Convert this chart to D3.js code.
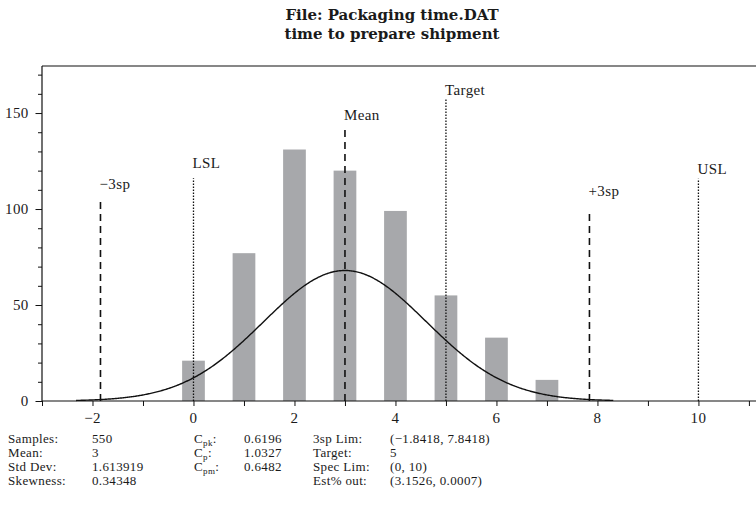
<!DOCTYPE html>
<html>
<head>
<meta charset="utf-8">
<script src="https://cdn.jsdelivr.net/npm/d3@7"></script>
<style>
  html, body { margin: 0; padding: 0; background: #fff; }
  svg { display: block; }
  text { font-family: "Liberation Serif", "Times New Roman", serif; fill: #1a1a1a; }
  .title { font-family: "DejaVu Serif", "Liberation Serif", serif; font-weight: bold; }
</style>
</head>
<body>
<svg id="chart" width="756" height="508"></svg>
<script>
// Histogram of packaging times with fitted normal curve and capability limits
const titleLines = ["File: Packaging time.DAT", "time to prepare shipment"];

const binCenters = [0, 1, 2, 3, 4, 5, 6, 7];
const binCounts  = [21, 77, 131, 120, 99, 55, 33, 11];

const xTickValues  = [-3, -2, -1, 0, 1, 2, 3, 4, 5, 6, 7, 8, 9, 10, 11];
const xTickLabels  = [-2, 0, 2, 4, 6, 8, 10];
const yMajorTicks  = [0, 50, 100, 150];
const yMinorTicks  = [10, 20, 30, 40, 60, 70, 80, 90, 110, 120, 130, 140, 160, 170];

// reference lines: name, x position, height reached (counts), line kind
const markerNames   = ["\u22123sp", "LSL", "Mean", "Target", "+3sp", "USL"];
const markerValues  = [-1.8418, 0, 3, 5, 7.8418, 10];
const markerHeights = [104.5, 116, 142, 157.5, 99.7, 115.8];
const markerKinds   = ["dash", "dot", "dash", "dot", "dash", "dot"];

// summary statistics
const sampleCount = 550;
const meanValue   = 3;
const stdDev      = 1.613919;
const curveScale  = 0.5;   // fitted curve drawn at n * 0.5 * density

const statsCol1 = [["Samples:", "550"], ["Mean:", "3"], ["Std Dev:", "1.613919"], ["Skewness:", "0.34348"]];
const statsCol2 = [["pk", "0.6196"], ["p", "1.0327"], ["pm", "0.6482"]];
const statsCol3 = [["3sp Lim:", "(\u22121.8418, 7.8418)"], ["Target:", "5"], ["Spec Lim:", "(0, 10)"], ["Est% out:", "(3.1526, 0.0007)"]];

const svg = d3.select("#chart");
const plotLeft = 42, plotRight = 757, plotTop = 66, plotBottom = 401;

const x = d3.scaleLinear().domain([-3, 11.16]).range([plotLeft, plotRight]);
const y = d3.scaleLinear().domain([0, 174.5]).range([plotBottom, plotTop]);

// title
svg.append("g").selectAll("text").data(titleLines).join("text")
  .attr("class", "title")
  .attr("x", 392).attr("y", (d, i) => 20 + i * 18.5)
  .attr("text-anchor", "middle")
  .style("font-size", "15px")
  .text(d => d);

// bars
const barHalf = 0.225;
svg.append("g").selectAll("rect").data(binCenters).join("rect")
  .attr("x", d => x(d - barHalf))
  .attr("width", d => x(d + barHalf) - x(d - barHalf))
  .attr("y", (d, i) => y(binCounts[i]))
  .attr("height", (d, i) => y(0) - y(binCounts[i]))
  .attr("fill", "#a7a8ab");

// fitted normal curve from the reported mean and standard deviation
const lo = meanValue - 3.3 * stdDev, hi = meanValue + 3.3 * stdDev;
const curvePts = d3.range(lo, hi + 1e-9, 0.02).map(v => {
  const z = (v - meanValue) / stdDev;
  return [v, sampleCount * curveScale * Math.exp(-0.5 * z * z) / (stdDev * Math.sqrt(2 * Math.PI))];
});
svg.append("path")
  .datum(curvePts)
  .attr("fill", "none").attr("stroke", "#111").attr("stroke-width", 1.4)
  .attr("d", d3.line().x(d => x(d[0])).y(d => y(d[1])));

// reference lines
const labelGap = { "\u22123sp": 11, "LSL": 10, "Mean": 8, "Target": 4, "+3sp": 14, "USL": 5 };
const markers = svg.append("g");
markerNames.forEach((name, i) => {
  const xv = x(markerValues[i]);
  const kind = markerKinds[i];
  markers.append("line")
    .attr("x1", xv).attr("x2", xv)
    .attr("y1", y(0)).attr("y2", y(markerHeights[i]))
    .attr("stroke", "#111")
    .attr("stroke-width", kind === "dash" ? 1.6 : 1.3)
    .attr("stroke-dasharray", kind === "dash" ? "7,5" : "1.5,1.5");
  markers.append("text")
    .attr("x", xv - 1).attr("y", y(markerHeights[i]) - labelGap[name])
    .style("font-size", "15px").style("letter-spacing", "0.4px")
    .text(name);
});

// axes
const xAxis = d3.axisBottom(x).tickValues(xTickValues).tickSize(5).tickFormat("");
const gx = svg.append("g").attr("transform", `translate(0,${plotBottom})`).call(xAxis);
gx.select(".domain").remove();
svg.append("line").attr("x1", plotLeft).attr("x2", plotRight).attr("y1", plotBottom).attr("y2", plotBottom)
  .attr("stroke", "#111").attr("stroke-width", 1.2);
svg.append("g").selectAll("text").data(xTickLabels).join("text")
  .attr("x", d => x(d)).attr("y", 423)
  .attr("text-anchor", "middle").style("font-size", "15px").style("letter-spacing", "0.3px")
  .text(d => d < 0 ? "\u2212" + Math.abs(d) : d);

const gyMajor = svg.append("g").attr("transform", `translate(${plotLeft},0)`)
  .call(d3.axisLeft(y).tickValues(yMajorTicks).tickSize(6.5).tickPadding(7)
    .tickFormat(d3.format("d")));
gyMajor.select(".domain").remove();
gyMajor.selectAll(".tick text").style("font-size", "15px").style("letter-spacing", "0.3px")
  .style("font-family", "'Liberation Serif', serif").attr("fill", "#1a1a1a");
const gyMinor = svg.append("g").attr("transform", `translate(${plotLeft},0)`)
  .call(d3.axisLeft(y).tickValues(yMinorTicks).tickSize(4).tickFormat(""));
gyMinor.select(".domain").remove();
svg.selectAll(".tick line").attr("stroke", "#111");

// frame: left axis and top edge
svg.append("line").attr("x1", plotLeft).attr("x2", plotLeft).attr("y1", plotTop).attr("y2", plotBottom)
  .attr("stroke", "#111").attr("stroke-width", 1.2);
svg.append("line").attr("x1", plotLeft).attr("x2", plotRight).attr("y1", plotTop).attr("y2", plotTop)
  .attr("stroke", "#111").attr("stroke-width", 1.2);

// statistics block
const rowY = [443, 457, 471, 485];
const stats = svg.append("g").style("font-size", "13px").style("letter-spacing", "0.35px");
statsCol1.forEach((r, i) => {
  stats.append("text").attr("x", 8).attr("y", rowY[i]).text(r[0]);
  stats.append("text").attr("x", 92).attr("y", rowY[i]).text(r[1]);
});
statsCol2.forEach((r, i) => {
  const t = stats.append("text").attr("x", 194).attr("y", rowY[i]);
  t.append("tspan").text("C");
  t.append("tspan").attr("dy", 3).style("font-size", "9px").text(r[0]);
  t.append("tspan").attr("dy", -3).text(":");
  stats.append("text").attr("x", 244).attr("y", rowY[i]).text(r[1]);
});
statsCol3.forEach((r, i) => {
  stats.append("text").attr("x", 313).attr("y", rowY[i]).text(r[0]);
  stats.append("text").attr("x", 390).attr("y", rowY[i]).text(r[1]);
});
</script>
</body>
</html>
